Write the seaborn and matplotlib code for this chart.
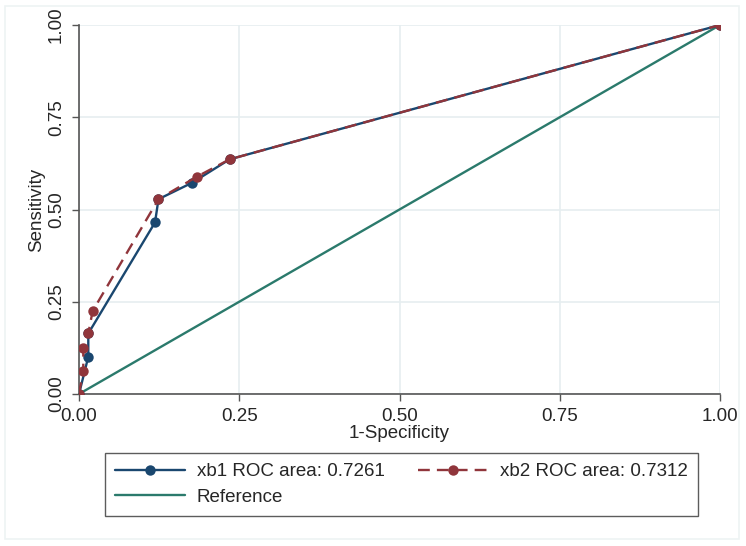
import pandas as pd
import matplotlib.pyplot as plt
import seaborn as sns
from matplotlib.patches import Rectangle

# ROC points
xb1_fpr = [0.0, 0.0145, 0.0145, 0.1186, 0.124, 0.177, 0.235, 1.0]
xb1_tpr = [0.0, 0.101, 0.164, 0.465, 0.528, 0.573, 0.636, 1.0]
xb2_fpr = [0.0, 0.0067, 0.0067, 0.0145, 0.0213, 0.124, 0.184, 0.235, 1.0]
xb2_tpr = [0.0, 0.063, 0.124, 0.164, 0.225, 0.528, 0.589, 0.636, 1.0]
ref_x = [0.0, 1.0]
ref_y = [0.0, 1.0]
labels = ["xb1 ROC area: 0.7261", "xb2 ROC area: 0.7312", "Reference"]
ticks = [0.0, 0.25, 0.5, 0.75, 1.0]

blue = "#1a476f"
red = "#90353b"
green = "#2b7a6c"

sns.set_style("white")
plt.rcParams["font.family"] = ["Liberation Sans", "DejaVu Sans"]

df1 = pd.DataFrame({"fpr": xb1_fpr, "tpr": xb1_tpr})
df2 = pd.DataFrame({"fpr": xb2_fpr, "tpr": xb2_tpr})
dfr = pd.DataFrame({"fpr": ref_x, "tpr": ref_y})

fig = plt.figure(figsize=(7.46, 5.46), dpi=100)
ax = fig.add_axes([79 / 746, 1 - 394 / 546, 641 / 746, 369 / 546])

# faint outer frame like Stata
fig.patches.append(Rectangle((5 / 746, 1 - 539 / 546), 734 / 746, 533 / 546,
                             transform=fig.transFigure, fill=False,
                             edgecolor="#eef3f4", linewidth=1.2))

sns.lineplot(data=df1, x="fpr", y="tpr", sort=False, estimator=None, ax=ax,
             color=blue, marker="o", markersize=7.5, markeredgewidth=0,
             linewidth=1.7, label=labels[0], zorder=3)
sns.lineplot(data=df2, x="fpr", y="tpr", sort=False, estimator=None, ax=ax,
             color=red, marker="o", markersize=7.5, markeredgewidth=0,
             linewidth=1.7, linestyle=(0, (5, 3)), label=labels[1], zorder=4)
sns.lineplot(data=dfr, x="fpr", y="tpr", sort=False, estimator=None, ax=ax,
             color=green, linewidth=1.7, label=labels[2], zorder=2)

ax.set_xlim(0, 1)
ax.set_ylim(0, 1)
ax.set_xticks(ticks)
ax.set_yticks(ticks)
ax.set_xticklabels([f"{t:.2f}" for t in ticks], fontsize=13.5)
ax.set_yticklabels([f"{t:.2f}" for t in ticks], fontsize=13.5, rotation=90, va="center")
ax.grid(True, color="#e6eef0", linewidth=1.2)
ax.set_axisbelow(True)
ax.tick_params(axis="both", length=5, width=1, color="#555555", pad=5, bottom=True, left=True)
for side in ["top", "right"]:
    ax.spines[side].set_visible(False)
for side in ["left", "bottom"]:
    ax.spines[side].set_color("#555555")
    ax.spines[side].set_linewidth(1.2)
ax.set_xlabel("1-Specificity", fontsize=13.5, labelpad=0)
ax.set_ylabel("Sensitivity", fontsize=13.5, labelpad=2)

ax.get_legend().remove()
h, l = ax.get_legend_handles_labels()
order = [0, 2, 1]
leg = fig.legend([h[i] for i in order], [l[i] for i in order], ncol=2,
                 loc="upper left", bbox_to_anchor=(105 / 746, 1 - 453 / 546),
                 fontsize=13.5, frameon=True, fancybox=False,
                 edgecolor="#333333", handlelength=3.7, handletextpad=0.64,
                 borderpad=0.55, labelspacing=0.45, columnspacing=1.8,
                 borderaxespad=0)
leg.get_frame().set_linewidth(1.0)

fig.savefig("out.png", dpi=100)
